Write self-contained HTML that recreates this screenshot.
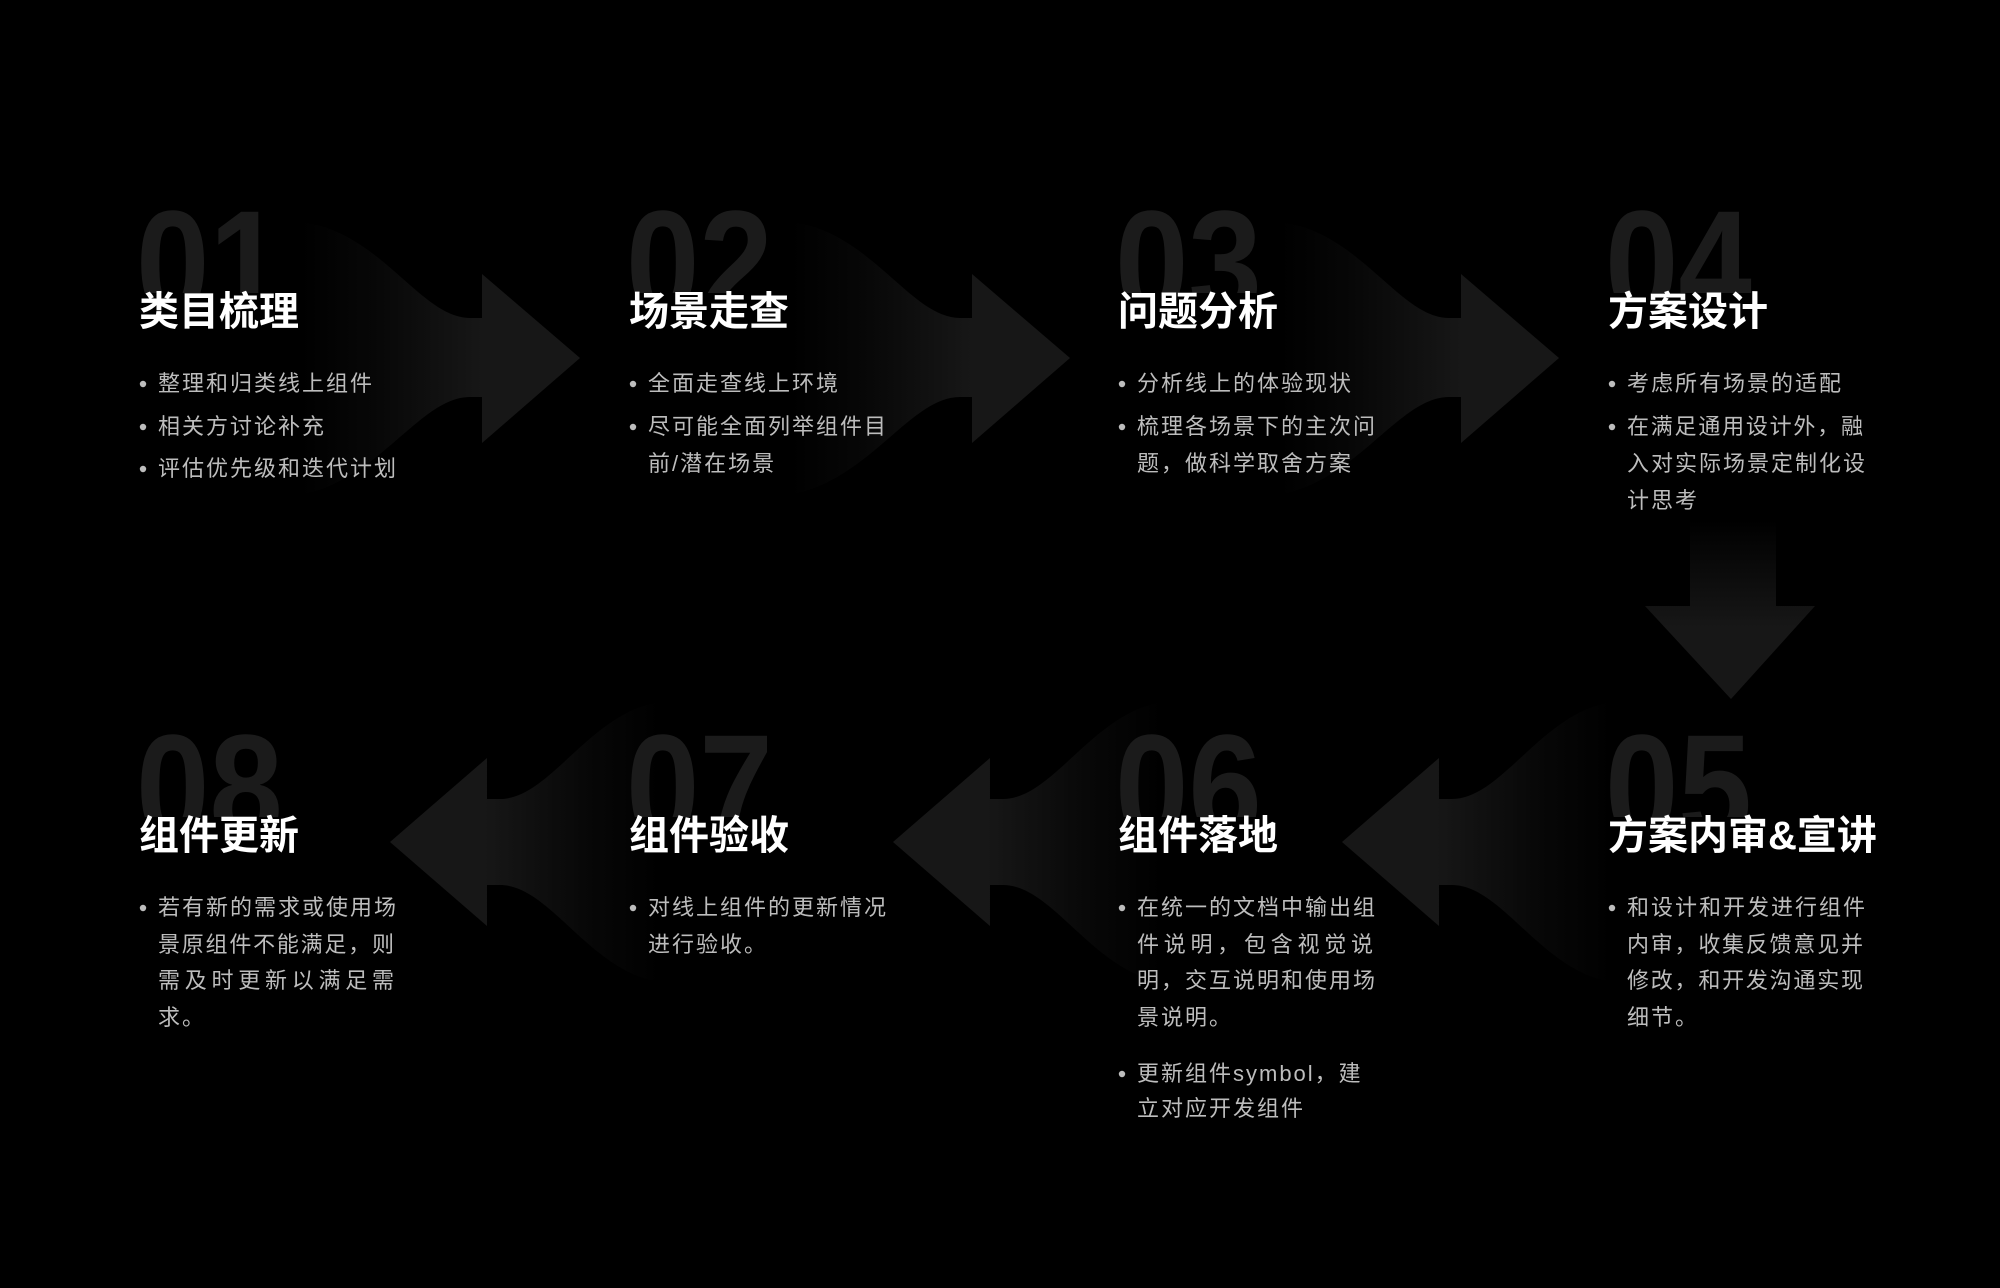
<!DOCTYPE html>
<html><head><meta charset="utf-8"><style>
html,body{margin:0;padding:0;background:#000;}
svg{display:block}
.num{font-family:"Liberation Sans Narrow","Liberation Sans",sans-serif;font-weight:bold;font-size:150px;fill:#1b1b1b}
.t{font-family:"Liberation Sans","Noto Sans CJK SC",sans-serif;font-weight:bold;font-size:40px;fill:#fff}
.b{font-family:"Liberation Sans","Noto Sans CJK SC",sans-serif;font-size:22px;fill:#bdbdbd;letter-spacing:2px}
</style></head><body>
<svg width="2000" height="1288" viewBox="0 0 2000 1288" xmlns="http://www.w3.org/2000/svg">
<defs>
<linearGradient id="gr" x1="0" y1="0" x2="0.65" y2="0"><stop offset="0" stop-color="#171717" stop-opacity="0"/><stop offset="0.4" stop-color="#171717" stop-opacity="0.3"/><stop offset="1" stop-color="#171717"/></linearGradient>
<linearGradient id="gl" x1="1" y1="0" x2="0.35" y2="0"><stop offset="0" stop-color="#171717" stop-opacity="0"/><stop offset="0.4" stop-color="#171717" stop-opacity="0.3"/><stop offset="1" stop-color="#171717"/></linearGradient>
<linearGradient id="gd" x1="0" y1="0" x2="0" y2="0.6"><stop offset="0" stop-color="#171717" stop-opacity="0"/><stop offset="1" stop-color="#171717"/></linearGradient>
<clipPath id="c1"><rect x="0" y="0" width="2000" height="293"/></clipPath>
<clipPath id="c2"><rect x="0" y="600" width="2000" height="217"/></clipPath>
<path id="ar" d="M300,222 C380,230 420,318 470,318 L482,318 L482,274 L580,358 L482,443 L482,397 L470,397 C420,397 380,480 300,495 Z"/>
<path id="al" d="M0,0 L97,-84 L97,-43 L110,-43 C160,-43 200,-130 270,-140 L270,140 C200,130 160,43 110,43 L97,43 L97,84 Z"/>
</defs>
<rect width="2000" height="1288" fill="#000"/>
<use href="#ar" fill="url(#gr)"/>
<use href="#ar" fill="url(#gr)" transform="translate(490,0)"/>
<use href="#ar" fill="url(#gr)" transform="translate(979,0)"/>
<path d="M1690,520 L1776,520 L1776,606 L1815,606 L1731,699 L1645,606 L1690,606 Z" fill="url(#gd)"/>
<use href="#al" fill="url(#gl)" transform="translate(1342,842)"/>
<use href="#al" fill="url(#gl)" transform="translate(893,842)"/>
<use href="#al" fill="url(#gl)" transform="translate(390,842)"/>

<g clip-path="url(#c1)">
<text class="num" transform="translate(136,315) scale(0.88,1)">01</text>
<text class="num" transform="translate(626,315) scale(0.88,1)">02</text>
<text class="num" transform="translate(1115,315) scale(0.88,1)">03</text>
<text class="num" transform="translate(1605,315) scale(0.88,1)">04</text>
</g>
<g clip-path="url(#c2)">
<text class="num" transform="translate(136,839) scale(0.88,1)">08</text>
<text class="num" transform="translate(626,839) scale(0.88,1)">07</text>
<text class="num" transform="translate(1115,839) scale(0.88,1)">06</text>
<text class="num" transform="translate(1605,839) scale(0.88,1)">05</text>
</g>

<text class="t" x="139" y="325">类目梳理</text>
<text class="t" x="629" y="325">场景走查</text>
<text class="t" x="1118" y="325">问题分析</text>
<text class="t" x="1608" y="325">方案设计</text>
<text class="t" x="139" y="849">组件更新</text>
<text class="t" x="629" y="849">组件验收</text>
<text class="t" x="1118" y="849">组件落地</text>
<text class="t" x="1608" y="849">方案内审&amp;宣讲</text>

<g fill="#bdbdbd">
<circle cx="143" cy="384" r="3.2"/><circle cx="143" cy="427" r="3.2"/><circle cx="143" cy="469" r="3.2"/>
<circle cx="633" cy="384" r="3.2"/><circle cx="633" cy="427" r="3.2"/>
<circle cx="1122" cy="384" r="3.2"/><circle cx="1122" cy="427" r="3.2"/>
<circle cx="1612" cy="384" r="3.2"/><circle cx="1612" cy="427" r="3.2"/>
<circle cx="143" cy="908" r="3.2"/>
<circle cx="633" cy="908" r="3.2"/>
<circle cx="1122" cy="908" r="3.2"/><circle cx="1122" cy="1074" r="3.2"/>
<circle cx="1612" cy="908" r="3.2"/>
</g>

<text class="b" x="158" y="391">整理和归类线上组件</text>
<text class="b" x="158" y="434">相关方讨论补充</text>
<text class="b" x="158" y="476">评估优先级和迭代计划</text>
<text class="b" x="648" y="391">全面走查线上环境</text>
<text class="b" x="648" y="434">尽可能全面列举组件目</text>
<text class="b" x="648" y="471">前/潜在场景</text>
<text class="b" x="1137" y="391">分析线上的体验现状</text>
<text class="b" x="1137" y="434">梳理各场景下的主次问</text>
<text class="b" x="1137" y="471">题，做科学取舍方案</text>
<text class="b" x="1627" y="391">考虑所有场景的适配</text>
<text class="b" x="1627" y="434" textLength="238" lengthAdjust="spacing">在满足通用设计外，融</text>
<text class="b" x="1627" y="471">入对实际场景定制化设</text>
<text class="b" x="1627" y="508">计思考</text>
<text class="b" x="158" y="915">若有新的需求或使用场</text>
<text class="b" x="158" y="952" textLength="238" lengthAdjust="spacing">景原组件不能满足，则</text>
<text class="b" x="158" y="988" textLength="238" lengthAdjust="spacing">需及时更新以满足需</text>
<text class="b" x="158" y="1025">求。</text>
<text class="b" x="648" y="915">对线上组件的更新情况</text>
<text class="b" x="648" y="952">进行验收。</text>
<text class="b" x="1137" y="915">在统一的文档中输出组</text>
<text class="b" x="1137" y="952" textLength="238" lengthAdjust="spacing">件说明，包含视觉说</text>
<text class="b" x="1137" y="988">明，交互说明和使用场</text>
<text class="b" x="1137" y="1025">景说明。</text>
<text class="b" x="1137" y="1081">更新组件symbol，建</text>
<text class="b" x="1137" y="1116">立对应开发组件</text>
<text class="b" x="1627" y="915">和设计和开发进行组件</text>
<text class="b" x="1627" y="952" textLength="238" lengthAdjust="spacing">内审，收集反馈意见并</text>
<text class="b" x="1627" y="988" textLength="238" lengthAdjust="spacing">修改，和开发沟通实现</text>
<text class="b" x="1627" y="1025">细节。</text>
</svg>
</body></html>
